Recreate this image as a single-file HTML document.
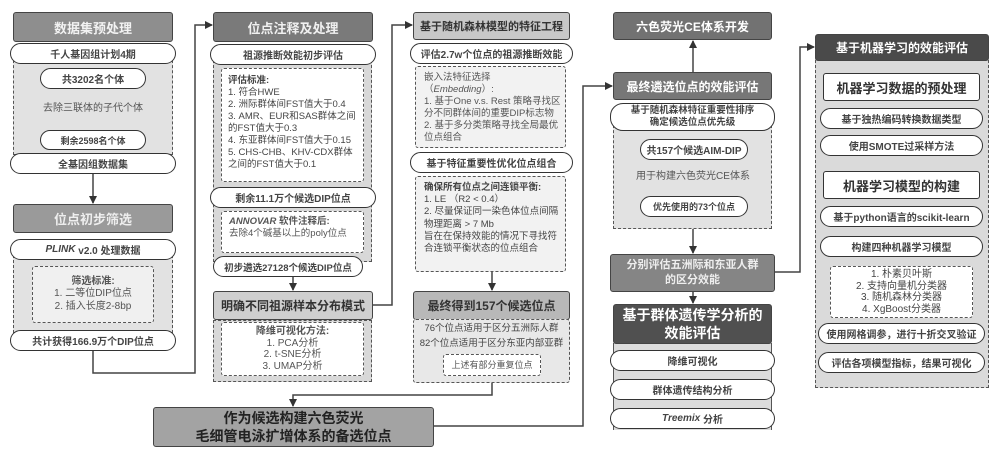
<!DOCTYPE html>
<html><head><meta charset="utf-8"><style>
*{box-sizing:border-box;margin:0;padding:0}
body{width:1000px;height:455px;background:#fff;position:relative;overflow:hidden;font-family:"Liberation Sans","Noto Sans CJK SC",sans-serif;color:#333}
div{position:absolute}
.c{display:flex;align-items:center;justify-content:center;text-align:center}
.hd{border:1.5px solid #444;border-radius:3px;font-weight:bold;white-space:nowrap}
.pill{background:#fff;border:1.5px solid #333;border-radius:11px;font-size:10px;font-weight:bold;color:#444;white-space:nowrap}
.sh{background:#e2e2e2;border:1.5px dashed #555}
.db{background:#fff;border:1.5px dashed #555;border-radius:3px}
.txt{font-size:10px;line-height:12.2px;color:#555}
.ln{background:#444}
</style></head><body>
<svg width="1000" height="455" style="position:absolute;left:0;top:0">
<defs><marker id="a" markerWidth="8" markerHeight="8" refX="7" refY="4" orient="auto" markerUnits="userSpaceOnUse"><path d="M0,0 L8,4 L0,8z" fill="#333"/></marker></defs>
<g stroke="#444" stroke-width="1.5" fill="none">
<path d="M93,173 V203" marker-end="url(#a)"/>
<path d="M93,90 V128" marker-end="url(#a)"/>
<path d="M93,350 V373 H195 V25 H212" marker-end="url(#a)"/>
<path d="M293,277 V290" marker-end="url(#a)"/>
<path d="M372,305 H392 V25 H412" marker-end="url(#a)"/>
<path d="M492,272 V290" marker-end="url(#a)"/>
<path d="M492,383 V395 H293 V406" marker-end="url(#a)"/>
<path d="M433,426 H583 V86 H612" marker-end="url(#a)"/>
<path d="M693,72 V41" marker-end="url(#a)"/>
<path d="M693,160 V194" marker-end="url(#a)"/>
<path d="M693,229 V253" marker-end="url(#a)"/>
<path d="M693,292 V303" marker-end="url(#a)"/>
<path d="M775,272 H800 V47 H814" marker-end="url(#a)"/>
</g></svg>

<!-- Col1 -->
<div class="hd c" style="left:13px;top:12px;width:160px;height:30px;background:#8e8e8e;color:#f2f2f2;font-size:13px">数据集预处理</div>
<div class="sh" style="left:13px;top:60px;width:160px;height:95px"></div>
<div class="pill c" style="left:10px;top:43px;width:166px;height:21px">千人基因组计划4期</div>
<div class="pill c" style="left:40px;top:68px;width:106px;height:21px">共3202名个体</div>
<div class="c txt" style="left:20px;top:102px;width:146px;height:14px;background:#e2e2e2">去除三联体的子代个体</div>
<div class="pill c" style="left:40px;top:130px;width:106px;height:20px;font-size:9px">剩余2598名个体</div>
<div class="pill c" style="left:10px;top:153px;width:166px;height:21px">全基因组数据集</div>

<div class="hd c" style="left:13px;top:204px;width:160px;height:29px;background:#9a9a9a;color:#eee;font-size:13px">位点初步筛选</div>
<div class="sh" style="left:13px;top:255px;width:160px;height:78px"></div>
<div class="pill c" style="left:10px;top:239px;width:166px;height:21px"><i>PLINK</i>&nbsp;v2.0 处理数据</div>
<div class="db c txt" style="left:32px;top:266px;width:122px;height:57px;flex-direction:column;background:#f0f0f0"><b>筛选标准:</b>1. 二等位DIP位点<br>2. 插入长度2-8bp</div>
<div class="pill c" style="left:10px;top:330px;width:166px;height:21px">共计获得166.9万个DIP位点</div>

<!-- Col2 -->
<div class="hd c" style="left:213px;top:12px;width:160px;height:30px;background:#7a7a7a;color:#f0f0f0;font-size:13px">位点注释及处理</div>
<div class="sh" style="left:213px;top:60px;width:159px;height:202px;background:#d8d8d8"></div>
<div class="pill c" style="left:210px;top:44px;width:166px;height:21px">祖源推断效能初步评估</div>
<div class="db txt" style="left:221px;top:68px;width:143px;height:114px;padding:6px 4px 0 6px;color:#444;font-size:9.5px;line-height:12px"><b>评估标准:</b><br>1. 符合HWE<br>2. 洲际群体间FST值大于0.4<br>3. AMR、EUR和SAS群体之间的FST值大于0.3<br>4. 东亚群体间FST值大于0.15<br>5. CHS-CHB、KHV-CDX群体之间的FST值大于0.1</div>
<div class="pill c" style="left:210px;top:187px;width:166px;height:21px">剩余11.1万个候选DIP位点</div>
<div class="db txt" style="left:221px;top:211px;width:143px;height:42px;padding:4px 0 0 7px;font-size:9.5px"><b><i>ANNOVAR</i> 软件注释后:</b><br>去除4个碱基以上的poly位点</div>
<div class="pill c" style="left:213px;top:256px;width:150px;height:21px;font-size:9.5px">初步遴选27128个候选DIP位点</div>
<div class="hd c" style="left:213px;top:291px;width:160px;height:29px;background:#cfcfcf;color:#333;font-size:12px">明确不同祖源样本分布模式</div>
<div class="sh" style="left:213px;top:320px;width:159px;height:62px;background:#d8d8d8"></div>
<div class="db c txt" style="left:221px;top:322px;width:143px;height:54px;flex-direction:column;line-height:11.5px"><b>降维可视化方法:</b>1. PCA分析<br>2. t-SNE分析<br>3. UMAP分析</div>

<div class="hd c" style="left:153px;top:407px;width:281px;height:40px;background:#a3a3a3;color:#222;font-size:14px;line-height:18px">作为候选构建六色荧光<br>毛细管电泳扩增体系的备选位点</div>

<!-- Col3 -->
<div class="hd c" style="left:413px;top:12px;width:157px;height:28px;background:#c8c8c8;color:#333;font-size:11px">基于随机森林模型的特征工程</div>
<div class="pill c" style="left:410px;top:43px;width:163px;height:21px">评估2.7w个位点的祖源推断效能</div>
<div class="db txt" style="left:415px;top:66px;width:151px;height:82px;padding:5px 2px 0 8px;background:#f2f2f2;font-size:9.5px;line-height:12px">嵌入法特征选择<br>（<i>Embedding</i>）:<br>1. 基于One v.s. Rest 策略寻找区分不同群体间的重要DIP标志物<br>2. 基于多分类策略寻找全局最优位点组合</div>
<div class="pill c" style="left:410px;top:152px;width:163px;height:21px">基于特征重要性优化位点组合</div>
<div class="db txt" style="left:415px;top:176px;width:151px;height:96px;padding:5px 2px 0 8px;background:#f2f2f2;color:#444;font-size:9.5px"><b>确保所有位点之间连锁平衡:</b><br>1. LE （R2 &lt; 0.4）<br>2. 尽量保证同一染色体位点间隔物理距离 &gt; 7 Mb<br>旨在在保持效能的情况下寻找符合连锁平衡状态的位点组合</div>
<div class="hd c" style="left:413px;top:291px;width:157px;height:29px;background:#b8b8b8;color:#333;font-size:12px">最终得到157个候选位点</div>
<div class="db" style="left:413px;top:319px;width:157px;height:64px;background:#e8e8e8"></div>
<div class="c txt" style="left:413px;top:322px;width:157px;height:14px;color:#444;font-size:9.5px">76个位点适用于区分五洲际人群</div>
<div class="c txt" style="left:413px;top:337px;width:157px;height:14px;color:#444;font-size:9.5px">82个位点适用于区分东亚内部亚群</div>
<div class="db c txt" style="left:443px;top:354px;width:98px;height:22px;font-size:9px">上述有部分重复位点</div>

<!-- Col4 -->
<div class="hd c" style="left:613px;top:12px;width:159px;height:28px;background:#727272;color:#fff;font-size:12px">六色荧光CE体系开发</div>
<div class="hd c" style="left:613px;top:72px;width:159px;height:28px;background:#777;color:#fff;font-size:12px">最终遴选位点的效能评估</div>
<div class="sh" style="left:613px;top:120px;width:159px;height:109px"></div>
<div class="pill c" style="left:610px;top:103px;width:165px;height:28px;border-radius:13px;line-height:12px;font-size:9.5px">基于随机森林特征重要性排序<br>确定候选位点优先级</div>
<div class="pill c" style="left:640px;top:139px;width:108px;height:21px">共157个候选AIM-DIP</div>
<div class="c txt" style="left:625px;top:170px;width:136px;height:14px;background:#e2e2e2">用于构建六色荧光CE体系</div>
<div class="pill c" style="left:640px;top:196px;width:108px;height:21px;font-size:9px">优先使用的73个位点</div>
<div class="hd c" style="left:610px;top:254px;width:165px;height:38px;background:#858585;color:#eee;font-size:11px;line-height:15px">分别评估五洲际和东亚人群<br>的区分效能</div>
<div style="left:613px;top:343px;width:159px;height:87px;background:#dcdcdc;border-left:1.5px solid #555;border-right:1.5px solid #555"></div>
<div class="hd c" style="left:613px;top:304px;width:159px;height:40px;background:#505050;color:#fff;font-size:14px;line-height:18px">基于群体遗传学分析的<br>效能评估</div>
<div class="pill c" style="left:610px;top:350px;width:165px;height:21px">降维可视化</div>
<div class="pill c" style="left:610px;top:379px;width:165px;height:21px">群体遗传结构分析</div>
<div class="pill c" style="left:610px;top:408px;width:165px;height:21px"><i>Treemix</i>&nbsp;分析</div>

<!-- Col5 -->
<div class="sh" style="left:815px;top:55px;width:174px;height:333px;background:#dadada"></div>
<div class="hd c" style="left:815px;top:34px;width:174px;height:27px;background:#4a4a4a;color:#fff;font-size:12px">基于机器学习的效能评估</div>
<div class="c" style="left:823px;top:73px;width:157px;height:28px;background:#fff;border:1.5px solid #333;border-radius:3px;font-size:13px;font-weight:bold;color:#333">机器学习数据的预处理</div>
<div class="pill c" style="left:820px;top:108px;width:163px;height:21px">基于独热编码转换数据类型</div>
<div class="pill c" style="left:820px;top:135px;width:163px;height:21px">使用SMOTE过采样方法</div>
<div class="c" style="left:823px;top:171px;width:157px;height:28px;background:#fff;border:1.5px solid #333;border-radius:3px;font-size:13px;font-weight:bold;color:#333">机器学习模型的构建</div>
<div class="pill c" style="left:820px;top:206px;width:163px;height:21px">基于python语言的scikit-learn</div>
<div class="pill c" style="left:820px;top:236px;width:163px;height:21px">构建四种机器学习模型</div>
<div class="db c txt" style="left:830px;top:266px;width:143px;height:52px;flex-direction:column;line-height:11.5px;color:#444">1. 朴素贝叶斯<br>2. 支持向量机分类器<br>3. 随机森林分类器<br>4. XgBoost分类器</div>
<div class="pill c" style="left:818px;top:323px;width:167px;height:21px">使用网格调参，进行十折交叉验证</div>
<div class="pill c" style="left:818px;top:352px;width:167px;height:21px">评估各项模型指标，结果可视化</div>
</body></html>
